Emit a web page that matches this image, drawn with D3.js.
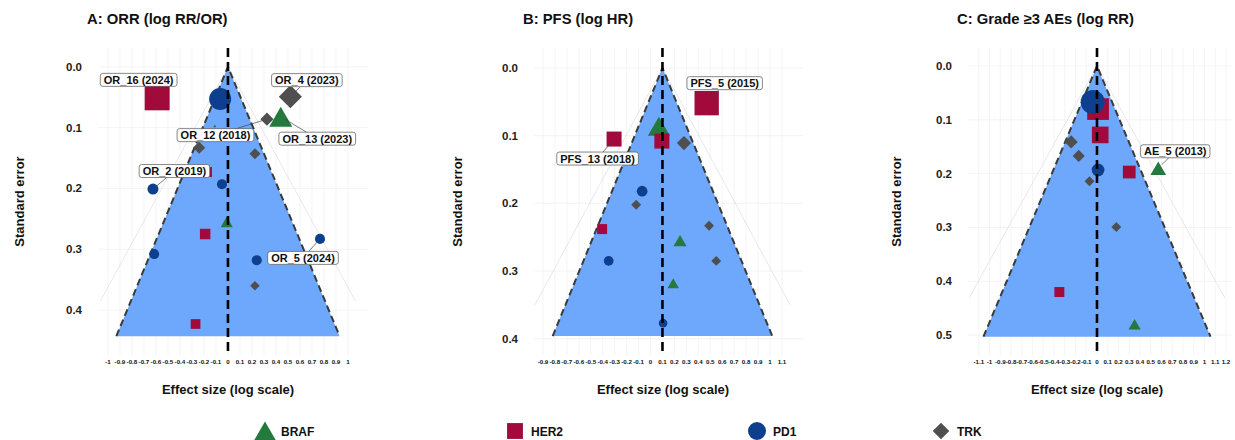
<!DOCTYPE html>
<html>
<head>
<meta charset="utf-8">
<script src="https://cdn.jsdelivr.net/npm/d3@7"></script>
<style>
  body { margin: 0; background: #fff; }
  svg text { font-family: "Liberation Sans", Arial, sans-serif; font-weight: bold; }
</style>
</head>
<body>
<div id="chart"></div>
<script>
// target groups shown in the legend
const groups = ["BRAF", "HER2", "PD1", "TRK"];

// A: ORR (log RR/OR)
const orrGroup  = ["HER2", "PD1", "TRK", "TRK", "BRAF", "BRAF", "TRK", "TRK", "HER2", "PD1", "PD1", "BRAF", "HER2", "PD1", "PD1", "PD1", "TRK", "HER2"];
const orrEffect = [-0.59, -0.065, 0.52, 0.325, 0.44, -0.11, -0.24, 0.225, -0.175, -0.625, -0.05, -0.01, -0.19, -0.615, 0.767, 0.24, 0.225, -0.27];
const orrSE     = [0.051, 0.053, 0.049, 0.086, 0.082, 0.097, 0.133, 0.143, 0.173, 0.201, 0.193, 0.255, 0.275, 0.308, 0.283, 0.318, 0.360, 0.423];
const orrWeight = [119, 72, 65, 21, 71, 1.3, 18, 15, 19, 18, 15, 20, 21, 15, 15, 15, 11, 18];
const orrLabel  = ["OR_16 (2024)", "", "OR_4 (2023)", "OR_12 (2018)", "OR_13 (2023)", "", "", "", "", "OR_2 (2019)", "", "", "", "", "OR_5 (2024)", "", "", ""];

// B: PFS (log HR)
const pfsGroup  = ["HER2", "HER2", "BRAF", "HER2", "TRK", "PD1", "TRK", "TRK", "HER2", "BRAF", "PD1", "TRK", "BRAF", "PD1"];
const pfsEffect = [0.47, -0.305, 0.07, 0.095, 0.28, -0.07, -0.12, 0.49, -0.405, 0.247, -0.35, 0.55, 0.19, 0.105];
const pfsSE     = [0.052, 0.105, 0.086, 0.108, 0.111, 0.182, 0.202, 0.233, 0.238, 0.255, 0.285, 0.285, 0.318, 0.377];
const pfsWeight = [113, 43, 65, 43, 25, 17, 12, 12, 19, 23, 14, 12, 18, 11];
const pfsLabel  = ["PFS_5 (2015)", "PFS_13 (2018)", "", "", "", "", "", "", "", "", "", "", "", ""];

// C: Grade >=3 AEs (log RR)
const aeGroup  = ["HER2", "PD1", "HER2", "TRK", "TRK", "PD1", "HER2", "BRAF", "TRK", "TRK", "HER2", "BRAF"];
const aeEffect = [0.01, -0.04, 0.03, -0.24, -0.17, 0.01, 0.30, 0.57, -0.07, 0.18, -0.35, 0.35];
const aeSE     = [0.080, 0.067, 0.128, 0.141, 0.167, 0.193, 0.197, 0.190, 0.214, 0.299, 0.420, 0.480];
const aeWeight = [90, 85, 53, 21, 18, 24, 31, 33, 12, 12, 19, 20];
const aeLabel  = ["", "", "", "", "", "", "", "AE_5 (2013)", "", "", "", ""];

// pooled estimate per panel (vertical dashed line / funnel apex)
const pooledEffect = [0, 0.1, 0];

// label box offsets from their point, in px (ggrepel placement)
const labelNudge = {
    "OR_16 (2024)": [-18.5, -18],
    "OR_4 (2023)": [16.5, -16.5],
    "OR_12 (2018)": [-51.5, 16],
    "OR_13 (2023)": [36.5, 22],
    "OR_2 (2019)": [21.5, -18],
    "OR_5 (2024)": [-17, 19],
    "PFS_5 (2015)": [18, -20],
    "PFS_13 (2018)": [-16.5, 19.5],
    "AE_5 (2013)": [17, -17]
};

const colors = { BRAF: "#237a3c", HER2: "#a10a3a", PD1: "#0e3f8f", TRK: "#4f4f4f" };
const funnelFill = "#6ea8fd";

const plotTop = 48, plotBottom = 355;

const panels = [
    { title: "A: ORR (log RR/OR)", group: orrGroup, effect: orrEffect, se: orrSE, weight: orrWeight, label: orrLabel,
      pooled: pooledEffect[0], left: 98, right: 368, xDomain: [-1.083, 1.167], yDomain: [-0.031, 0.474],
      xTickRange: [-1, 1], yTicks: [0, 0.1, 0.2, 0.3, 0.4], z: 2.1, seMax: 0.443, seOuter: 0.385, yTitleX: 20, xTitleX: 228 },
    { title: "B: PFS (log HR)", group: pfsGroup, effect: pfsEffect, se: pfsSE, weight: pfsWeight, label: pfsLabel,
      pooled: pooledEffect[1], left: 534, right: 803, xDomain: [-0.975, 1.276], yDomain: [-0.0295, 0.424],
      xTickRange: [-0.9, 1.1], yTicks: [0, 0.1, 0.2, 0.3, 0.4], z: 2.32, seMax: 0.396, seOuter: 0.35, yTitleX: 458, xTitleX: 663 },
    { title: "C: Grade \u22653 AEs (log RR)", group: aeGroup, effect: aeEffect, se: aeSE, weight: aeWeight, label: aeLabel,
      pooled: pooledEffect[2], left: 968, right: 1232, xDomain: [-1.2, 1.256], yDomain: [-0.0335, 0.537],
      xTickRange: [-1.1, 1.2], yTicks: [0, 0.1, 0.2, 0.3, 0.4, 0.5], z: 2.1, seMax: 0.503, seOuter: 0.431, yTitleX: 897, xTitleX: 1097 }
];

const svg = d3.select("#chart")
    .append("svg")
    .attr("width", 1235)
    .attr("height", 440);

svg.append("rect").attr("width", 1235).attr("height", 440).attr("fill", "#fff");

// marker size from study weight
const sizeScale = d3.scaleSqrt().domain([0, 100]).range([0, 26]);

// draw one marker shape centred at 0,0
function addMark(g, group, s) {
    const fill = colors[group];
    if (group === "PD1") {
        g.append("circle").attr("r", s / 2).attr("fill", fill);
    } else if (group === "HER2") {
        const a = s * 0.88;
        g.append("rect").attr("x", -a / 2).attr("y", -a / 2).attr("width", a).attr("height", a).attr("fill", fill);
    } else if (group === "BRAF") {
        const w = s * 1.05, h = w * 0.866;
        g.append("path").attr("d", `M0,${-h / 2}L${w / 2},${h / 2}L${-w / 2},${h / 2}Z`).attr("fill", fill);
    } else {
        const r = s * 0.55;
        g.append("path").attr("d", `M0,${-r}L${r},0L0,${r}L${-r},0Z`).attr("fill", fill);
    }
}

const fmtTick = v => String(Math.round(v * 10) / 10);

panels.forEach(p => {
    const x = d3.scaleLinear().domain(p.xDomain).range([p.left, p.right]);
    const y = d3.scaleLinear().domain(p.yDomain).range([plotTop, plotBottom]);
    const g = svg.append("g");

    // grid
    const nx = Math.round((p.xTickRange[1] - p.xTickRange[0]) * 10);
    const xTicks = d3.range(nx + 1).map(i => p.xTickRange[0] + i / 10);
    g.selectAll(".vgrid").data(xTicks).join("line")
        .attr("x1", d => x(d)).attr("x2", d => x(d))
        .attr("y1", plotTop).attr("y2", plotBottom)
        .attr("stroke", "#efefef").attr("stroke-width", 0.6);
    g.selectAll(".hgrid").data(p.yTicks).join("line")
        .attr("x1", p.left).attr("x2", p.right)
        .attr("y1", d => y(d)).attr("y2", d => y(d))
        .attr("stroke", "#ececec").attr("stroke-width", 0.6);

    // outer (99%) guide lines
    const zo = p.z * 1.314;
    g.append("path")
        .attr("d", `M${x(p.pooled - zo * p.seOuter)},${y(p.seOuter)}L${x(p.pooled)},${y(0)}L${x(p.pooled + zo * p.seOuter)},${y(p.seOuter)}`)
        .attr("fill", "none").attr("stroke", "#d8d8d8").attr("stroke-width", 0.6);

    // funnel
    g.append("path")
        .attr("d", `M${x(p.pooled)},${y(0)}L${x(p.pooled + p.z * p.seMax)},${y(p.seMax)}L${x(p.pooled - p.z * p.seMax)},${y(p.seMax)}Z`)
        .attr("fill", funnelFill);
    g.append("path")
        .attr("d", `M${x(p.pooled - p.z * p.seMax)},${y(p.seMax)}L${x(p.pooled)},${y(0)}L${x(p.pooled + p.z * p.seMax)},${y(p.seMax)}`)
        .attr("fill", "none").attr("stroke", "#3a3a3a").attr("stroke-width", 2).attr("stroke-dasharray", "7,4");

    // points (ordered by group so circles sit over squares)
    const pts = p.effect.map((e, i) => ({ e, se: p.se[i], group: p.group[i], w: p.weight[i], label: p.label[i] }));
    const order = ["BRAF", "HER2", "TRK", "PD1"];
    pts.slice().sort((a, b) => order.indexOf(a.group) - order.indexOf(b.group)).forEach(d => {
        const m = g.append("g").attr("transform", `translate(${x(d.e)},${y(d.se)})`);
        addMark(m, d.group, sizeScale(d.w));
    });

    // pooled line
    g.append("line")
        .attr("x1", x(p.pooled)).attr("x2", x(p.pooled))
        .attr("y1", plotTop).attr("y2", plotBottom)
        .attr("stroke", "#000").attr("stroke-width", 2.6).attr("stroke-dasharray", "9,5");

    // labels with leader lines
    pts.filter(d => d.label).forEach(d => {
        const px = x(d.e), py = y(d.se);
        const [dx, dy] = labelNudge[d.label];
        const cx = px + dx, cy = py + dy;
        const len = Math.hypot(dx, dy);
        const k = Math.max(0, (len - 5) / len);
        g.append("line")
            .attr("x1", cx).attr("y1", cy)
            .attr("x2", cx - dx * k).attr("y2", cy - dy * k)
            .attr("stroke", "#444").attr("stroke-width", 0.7);
        const lab = g.append("g").attr("transform", `translate(${cx},${cy})`);
        const t = lab.append("text")
            .attr("text-anchor", "middle").attr("dy", "0.36em")
            .attr("font-size", 11).attr("fill", "#111")
            .text(d.label);
        const bw = t.node().getComputedTextLength() + 7;
        lab.insert("rect", "text")
            .attr("x", -bw / 2).attr("y", -6.5)
            .attr("width", bw).attr("height", 13)
            .attr("rx", 2.5)
            .attr("fill", "#fff").attr("stroke", "#555").attr("stroke-width", 0.7);
    });

    // axes text
    g.selectAll(".ytick").data(p.yTicks).join("text")
        .attr("x", p.left - 16).attr("y", d => y(d)).attr("dy", "0.35em")
        .attr("text-anchor", "end").attr("font-size", 11.5).attr("fill", "#222")
        .text(d => d3.format(".1f")(d));
    g.selectAll(".xtick").data(xTicks).join("text")
        .attr("x", d => x(d)).attr("y", 364)
        .attr("text-anchor", "middle").attr("font-size", 6.2).attr("fill", "#111")
        .text(fmtTick);

    g.append("text")
        .attr("x", p.left - 11).attr("y", 24)
        .attr("font-size", 14.8).attr("fill", "#111")
        .text(p.title);
    g.append("text")
        .attr("x", p.xTitleX).attr("y", 394)
        .attr("text-anchor", "middle").attr("font-size", 13).attr("fill", "#111")
        .text("Effect size (log scale)");
    g.append("text")
        .attr("transform", `translate(${p.yTitleX + 4},${(plotTop + plotBottom) / 2}) rotate(-90)`)
        .attr("text-anchor", "middle").attr("font-size", 13).attr("fill", "#111")
        .text("Standard error");
});

// legend
const legendX = [265, 515, 757, 941];
const legend = svg.append("g");
groups.forEach((grp, i) => {
    const item = legend.append("g").attr("transform", `translate(${legendX[i]},431)`);
    const s = { BRAF: 21, HER2: 18, PD1: 18, TRK: 15 }[grp];
    addMark(item, grp, s);
    item.append("text")
        .attr("x", 16).attr("y", 4.5)
        .attr("font-size", 12).attr("fill", "#111")
        .text(grp);
});
</script>
</body>
</html>
